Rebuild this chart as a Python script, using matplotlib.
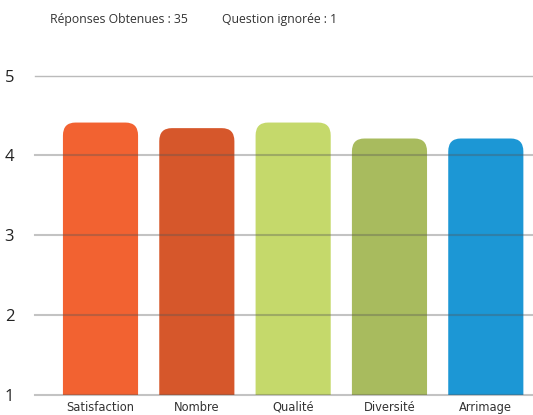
import matplotlib.pyplot as plt
from matplotlib.patches import FancyBboxPatch

categories = ["Satisfaction", "Nombre", "Qualité", "Diversité", "Arrimage"]
values = [4.41, 4.34, 4.41, 4.21, 4.21]
colors = ["#F26231", "#D6572B", "#C5D96B", "#A8BB5E", "#1C97D5"]
yticks = [1, 2, 3, 4, 5]

fig = plt.figure(figsize=(5.33, 4.15), dpi=100)
ax = fig.add_axes([35 / 533, 20.5 / 415, 498 / 533, 319 / 415])
ax.set_xlim(-0.68, 4.49)
ax.set_ylim(1, 5)

width = 0.78
rad = 0.13
for i, (v, c) in enumerate(zip(values, colors)):
    p = FancyBboxPatch((i - width / 2, 0), width, v,
                       boxstyle=f"round,pad=0,rounding_size={rad}",
                       mutation_aspect=1.25, fc=c, ec="none", zorder=2)
    ax.add_patch(p)

# grid lines sit on top of the bars
for y in yticks[:-1]:
    ax.axhline(y, color="#555555", alpha=0.35, lw=1.5, zorder=3, clip_on=False)
ax.axhline(5, color="#bbbbbb", lw=1.0, zorder=3, clip_on=False)

ax.set_yticks(yticks)
ax.set_yticklabels([str(t) for t in yticks], fontsize=12, color="#222222",
                   family="Open Sans")
ax.set_xticks(range(len(categories)))
ax.set_xticklabels(categories, fontsize=8.3, color="#333333", family="DejaVu Sans")
ax.tick_params(axis="y", length=0, pad=15)
ax.tick_params(axis="x", length=0, pad=4.5)
for s in ax.spines.values():
    s.set_visible(False)

fig.text(50 / 533, 1 - 19 / 415, "Réponses Obtenues : 35", fontsize=8.8,
         color="#333333", va="center", family="Open Sans")
fig.text(222 / 533, 1 - 19 / 415, "Question ignorée : 1", fontsize=8.8,
         color="#333333", va="center", family="Open Sans")

fig.savefig("out.png", dpi=100)
